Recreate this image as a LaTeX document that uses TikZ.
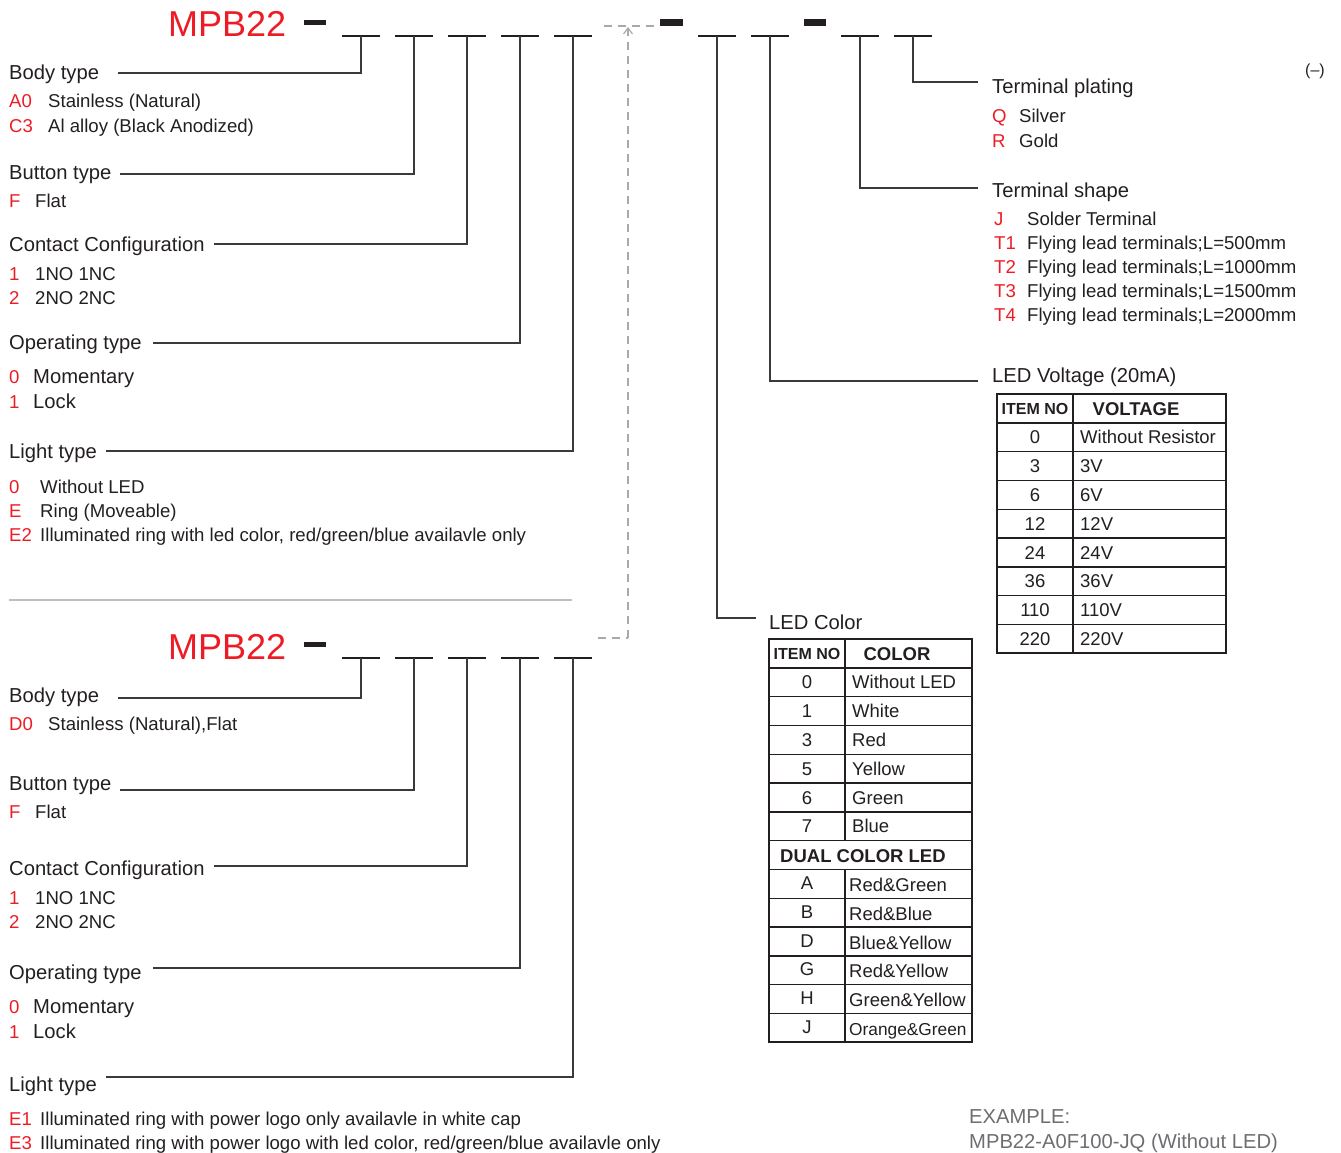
\documentclass[tikz,border=0pt]{standalone}
\usepackage{fontspec}
\setmainfont{Liberation Sans}
\usetikzlibrary{arrows.meta,calc}
\definecolor{ink}{HTML}{231F20}
\definecolor{mred}{HTML}{ED1C24}
\definecolor{wire}{HTML}{3A3A3C}
\definecolor{dashgray}{HTML}{A7A9AC}
\definecolor{rulegray}{HTML}{BCBEC0}
\definecolor{exgray}{HTML}{6D6E71}
\tikzset{
  head/.style={anchor=base west, inner sep=0pt, text=ink, font=\fontsize{20.2}{24}\selectfont},
  item/.style={anchor=base west, inner sep=0pt, text=ink, font=\fontsize{18.6}{22}\selectfont},
  bigitem/.style={item, font=\fontsize{20.2}{24}\selectfont},
  code/.style={item, text=mred},
  series/.style={anchor=base west, inner sep=0pt, text=mred, font=\fontsize{36}{40}\selectfont},
  slot/.style={draw=ink, line width=2.4pt},
  conn/.style={draw=wire, line width=1.3pt},
  guide/.style={draw=dashgray, line width=1.2pt, dash pattern=on 8pt off 6pt},
  tbl/.style={draw=ink, line width=1.8pt},
  tblin/.style={draw=ink, line width=1.4pt},
  cellc/.style={anchor=base, inner sep=0pt, text=ink, font=\fontsize{18.5}{22}\selectfont},
  celll/.style={cellc, anchor=base west},
  cellh/.style={cellc, font=\bfseries\fontsize{18.5}{22}\selectfont},
}
\begin{document}
\begin{tikzpicture}[x=1pt,y=-1pt]
  \useasboundingbox (0,0) rectangle (1341,1153);

  % upper code line
  \node[series] (uname) at (168,37) {MPB22};
  \fill[ink] (304,20) rectangle (326,25);
  \foreach \x [count=\i] in {361,414,467,520,573} {
    \draw[slot] (\x-19,36) -- (\x+19,36);
    \coordinate (us\i) at (\x,36);
  }
  \fill[ink] (660,19) rectangle (683,26);
  \foreach \x [count=\i] in {717,770,860,913} {
    \draw[slot] (\x-19,36) -- (\x+19,36);
    \coordinate (rs\i) at (\x,36);
  }
  \fill[ink] (804,19) rectangle (826,26);

  % upper options, left
  \node[head] (ubody) at (9,80) {Body type};
  \node[code] (ua0) at (9,108) {A0};
  \node[item] (ua0t) at (48,108) {Stainless (Natural)};
  \node[code] (uc3) at (9,132) {C3};
  \node[item] (uc3t) at (48,132) {Al alloy (Black Anodized)};

  \node[head] (ubutton) at (9,179) {Button type};
  \node[code] (uf) at (9,207) {F};
  \node[item] (uft) at (35,207) {Flat};

  \node[head] (ucontact) at (9,251) {Contact Configuration};
  \node[code] (uc1) at (9,280) {1};
  \node[item] (uc1t) at (35,280) {1NO 1NC};
  \node[code] (uc2) at (9,304) {2};
  \node[item] (uc2t) at (35,304) {2NO 2NC};

  \node[head] (uoper) at (9,349) {Operating type};
  \node[code] (uo0) at (9,383) {0};
  \node[bigitem] (uo0t) at (33,383) {Momentary};
  \node[code] (uo1) at (9,408) {1};
  \node[bigitem] (uo1t) at (33,408) {Lock};

  \node[head] (ulight) at (9,458) {Light type};
  \node[code] (ul0) at (9,493) {0};
  \node[item] (ul0t) at (40,493) {Without LED};
  \node[code] (ule) at (9,517) {E};
  \node[item] (ulet) at (40,517) {Ring (Moveable)};
  \node[code] (ule2) at (9,541) {E2};
  \node[item] (ule2t) at (40,541) {Illuminated ring with led color, red/green/blue availavle only};

  \coordinate (uk1) at (361,73);
  \coordinate (uk2) at (414,174);
  \coordinate (uk3) at (467,244);
  \coordinate (uk4) at (520,343);
  \coordinate (uk5) at (573,451);
  \draw[conn] (us1) -- (uk1) -- ($(ubody.east |- uk1)+(19,0)$);
  \draw[conn] (us2) -- (uk2) -- ($(ubutton.east |- uk2)+(8,0)$);
  \draw[conn] (us3) -- (uk3) -- ($(ucontact.east |- uk3)+(9,0)$);
  \draw[conn] (us4) -- (uk4) -- ($(uoper.east |- uk4)+(11,0)$);
  \draw[conn] (us5) -- (uk5) -- ($(ulight.east |- uk5)+(9,0)$);

  % upper options, right
  \node[head] (plating) at (992,94) {Terminal plating};
  \node[code] (pq) at (992,123) {Q};
  \node[item] (pqt) at (1019,123) {Silver};
  \node[code] (pr) at (992,147) {R};
  \node[item] (prt) at (1019,147) {Gold};

  \node[head] (shape) at (992,197) {Terminal shape};
  \node[code] (sj) at (994,225) {J};
  \node[item] (sjt) at (1027,225) {Solder Terminal};
  \foreach \c/\l [count=\i] in {T1/500,T2/1000,T3/1500,T4/2000} {
    \node[code] (st\i) at (994,225+24*\i) {\c};
    \node[item] (st\i t) at (1027,225+24*\i) {Flying lead terminals;L=\l mm};
  }

  \node[head] (volt) at (992,382) {LED Voltage (20mA)};
  \node[head] (color) at (769,629) {LED Color};
  \node[item, font=\fontsize{16}{18}\selectfont] (neg) at (1305,76) {(–)};

  \coordinate (rk4) at (913,82);
  \coordinate (rk3) at (860,188);
  \coordinate (rk2) at (770,381);
  \coordinate (rk1) at (717,618);
  \draw[conn] (rs4) -- (rk4) -- ($(plating.west |- rk4)+(-14,0)$);
  \draw[conn] (rs3) -- (rk3) -- ($(shape.west |- rk3)+(-14,0)$);
  \draw[conn] (rs2) -- (rk2) -- ($(volt.west |- rk2)+(-14,0)$);
  \draw[conn] (rs1) -- (rk1) -- ($(color.west |- rk1)+(-13,0)$);

  % LED voltage table
  \draw[tbl] (997,394) rectangle (1226,653.2);
  \foreach \i in {1,...,8}
    \draw[tblin] (997,394+28.8*\i) -- (1226,394+28.8*\i);
  \draw[tblin] (1073,394) -- (1073,653.2);
  \node[cellh, font=\bfseries\fontsize{16}{18}\selectfont] (vhead1) at (1035,414) {ITEM NO};
  \node[cellh] (vhead2) at (1136,415) {VOLTAGE};
  \foreach \n/\v [count=\i] in {0/Without Resistor,3/3V,6/6V,12/12V,24/24V,36/36V,110/110V,220/220V} {
    \node[cellc] (vn\i) at (1035,415+28.8*\i) {\n};
    \node[celll] (vv\i) at (1080,415+28.8*\i) {\v};
  }

  % LED colour table
  \draw[tbl] (769,639) rectangle (972,1042.2);
  \foreach \i in {1,...,13}
    \draw[tblin] (769,639+28.8*\i) -- (972,639+28.8*\i);
  \draw[tblin] (845,639) -- (845,639+28.8*7);
  \draw[tblin] (845,639+28.8*8) -- (845,1042.2);
  \node[cellh, font=\bfseries\fontsize{16}{18}\selectfont] (chead1) at (807,659) {ITEM NO};
  \node[cellh] (chead2) at (897,660) {COLOR};
  \foreach \n/\v [count=\i] in {0/Without LED,1/White,3/Red,5/Yellow,6/Green,7/Blue} {
    \node[cellc] (cn\i) at (807,660+28.8*\i) {\n};
    \node[celll] (cv\i) at (852,660+28.8*\i) {\v};
  }
  \node[cellh, anchor=base west] (dual) at (780,661+28.8*7) {DUAL COLOR LED};
  \foreach \n/\v [count=\i from 8] in {A/Red\&Green,B/Red\&Blue,D/Blue\&Yellow,G/Red\&Yellow,H/Green\&Yellow} {
    \node[cellc] (cn\i) at (807,659+28.8*\i) {\n};
    \node[celll] (cv\i) at (849,661+28.8*\i) {\v};
  }
  \node[cellc] (cn13) at (807,659+28.8*13) {J};
  \node[celll, font=\fontsize{17.3}{20}\selectfont] (cv13) at (849,661+28.8*13) {Orange\&Green};

  % reference guide between the two codes
  \coordinate (gtop) at (628,27);
  \coordinate (gbot) at (628,638);
  \draw[guide] (604,26) -- (655,26);
  \draw[guide, -{Straight Barb[length=6pt,width=9pt]}] (gbot) -- (gtop);
  \draw[guide] (598,638) -- (gbot);

  % separator
  \draw[rulegray, line width=1.2pt] (9,600) -- (572,600);

  % lower code line
  \node[series] (lname) at (168,659) {MPB22};
  \fill[ink] (304,642) rectangle (326,647);
  \foreach \x [count=\i] in {361,414,467,520,573} {
    \draw[slot] (\x-19,658) -- (\x+19,658);
    \coordinate (ls\i) at (\x,658);
  }

  \node[head] (lbody) at (9,702) {Body type};
  \node[code] (ld0) at (9,730) {D0};
  \node[item] (ld0t) at (48,730) {Stainless (Natural),Flat};

  \node[head] (lbutton) at (9,790) {Button type};
  \node[code] (lf) at (9,818) {F};
  \node[item] (lft) at (35,818) {Flat};

  \node[head] (lcontact) at (9,875) {Contact Configuration};
  \node[code] (lc1) at (9,904) {1};
  \node[item] (lc1t) at (35,904) {1NO 1NC};
  \node[code] (lc2) at (9,928) {2};
  \node[item] (lc2t) at (35,928) {2NO 2NC};

  \node[head] (loper) at (9,979) {Operating type};
  \node[code] (lo0) at (9,1013) {0};
  \node[bigitem] (lo0t) at (33,1013) {Momentary};
  \node[code] (lo1) at (9,1038) {1};
  \node[bigitem] (lo1t) at (33,1038) {Lock};

  \node[head] (llight) at (9,1091) {Light type};
  \node[code] (le1) at (9,1125) {E1};
  \node[item] (le1t) at (40,1125) {Illuminated ring with power logo only availavle in white cap};
  \node[code] (le3) at (9,1149) {E3};
  \node[item] (le3t) at (40,1149) {Illuminated ring with power logo with led color, red/green/blue availavle only};

  \coordinate (lk1) at (361,698);
  \coordinate (lk2) at (414,790);
  \coordinate (lk3) at (467,866);
  \coordinate (lk4) at (520,968);
  \coordinate (lk5) at (573,1077);
  \draw[conn] (ls1) -- (lk1) -- ($(lbody.east |- lk1)+(19,0)$);
  \draw[conn] (ls2) -- (lk2) -- ($(lbutton.east |- lk2)+(8,0)$);
  \draw[conn] (ls3) -- (lk3) -- ($(lcontact.east |- lk3)+(9,0)$);
  \draw[conn] (ls4) -- (lk4) -- ($(loper.east |- lk4)+(11,0)$);
  \draw[conn] (ls5) -- (lk5) -- ($(llight.east |- lk5)+(9,0)$);

  % example
  \node[head, text=exgray] (ex1) at (969,1123) {EXAMPLE:};
  \node[head, text=exgray] (ex2) at (969,1148) {MPB22-A0F100-JQ (Without LED)};
\end{tikzpicture}
\end{document}
